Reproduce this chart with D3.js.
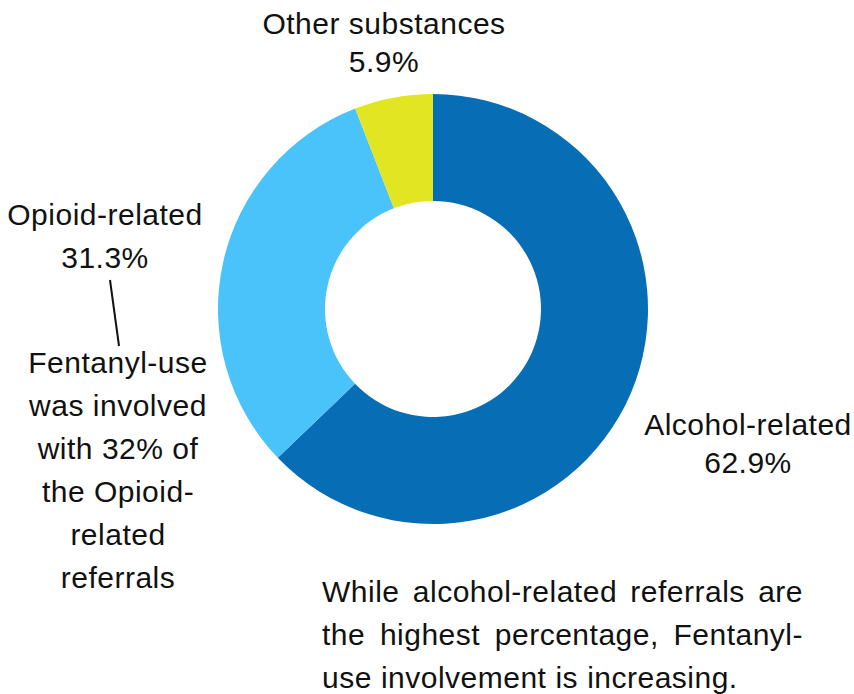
<!DOCTYPE html>
<html>
<head>
<meta charset="utf-8">
<script src="https://cdn.jsdelivr.net/npm/d3@7"></script>
<style>
  body { margin: 0; background: #fff; }
  text { font-family: "Liberation Sans", Arial, sans-serif; fill: #111; }
</style>
</head>
<body>
<div id="chart"></div>
<script>
var categories = ["Alcohol-related", "Opioid-related", "Other substances"];
var values = [62.9, 31.3, 5.9];
var valueLabels = ["62.9%", "31.3%", "5.9%"];
var colors = ["#076db5", "#4ac3fb", "#e2e622"];
var noteLines = ["Fentanyl-use", "was involved", "with 32% of", "the Opioid-", "related", "referrals"];
var footerLines = [
    "While alcohol-related referrals are",
    "the highest percentage, Fentanyl-",
    "use involvement is increasing."
];

var width = 854,
    height = 694;

var svg = d3
    .select("#chart")
    .append("svg")
    .attr("width", width)
    .attr("height", height);

var cx = 433,
    cy = 309;

var pie = d3.pie().sort(null).value((d) => d);
var arc = d3.arc().innerRadius(108).outerRadius(215);

svg.append("g")
    .attr("transform", "translate(" + cx + "," + cy + ")")
    .selectAll("path")
    .data(pie(values))
    .enter()
    .append("path")
    .attr("d", arc)
    .attr("fill", (d, i) => colors[i]);

// label positions: [center x, baseline of name, baseline of value]
var labelPos = [
    [748, 435, 473],
    [105, 225, 268],
    [384, 34, 72]
];

var fs = 30;
labelPos.forEach((p, i) => {
    svg.append("text")
        .attr("x", p[0])
        .attr("y", p[1])
        .attr("text-anchor", "middle")
        .style("font-size", fs + "px")
        .style("letter-spacing", "0.5px")
        .text(categories[i]);
    svg.append("text")
        .attr("x", p[0])
        .attr("y", p[2])
        .attr("text-anchor", "middle")
        .style("font-size", fs + "px")
        .style("letter-spacing", "0.5px")
        .text(valueLabels[i]);
});

// leader line from opioid label to note
svg.append("line")
    .attr("x1", 110)
    .attr("y1", 280)
    .attr("x2", 119)
    .attr("y2", 346)
    .attr("stroke", "#111")
    .attr("stroke-width", 2);

svg.selectAll(".note")
    .data(noteLines)
    .enter()
    .append("text")
    .attr("class", "note")
    .attr("x", 118)
    .attr("y", (_, i) => 373 + i * 43)
    .attr("text-anchor", "middle")
    .style("font-size", fs + "px")
    .style("letter-spacing", "0.5px")
    .text((d) => d);

// footer, justified except last line
var left = 322,
    right = 803;
footerLines.forEach((line, li) => {
    var y = 602 + li * 43;
    var words = line.split(" ");
    var g = svg.append("g");
    var nodes = words.map((w) =>
        g.append("text")
            .attr("y", y)
            .style("font-size", fs + "px")
            .style("letter-spacing", "0.5px")
            .text(w)
    );
    var widths = nodes.map((n) => n.node().getComputedTextLength());
    var total = d3.sum(widths);
    var gap;
    if (li < footerLines.length - 1) {
        gap = (right - left - total) / (words.length - 1);
    } else {
        gap = fs * 0.3;
    }
    var x = left;
    nodes.forEach((n, i) => {
        n.attr("x", x);
        x += widths[i] + gap;
    });
});
</script>
</body>
</html>
